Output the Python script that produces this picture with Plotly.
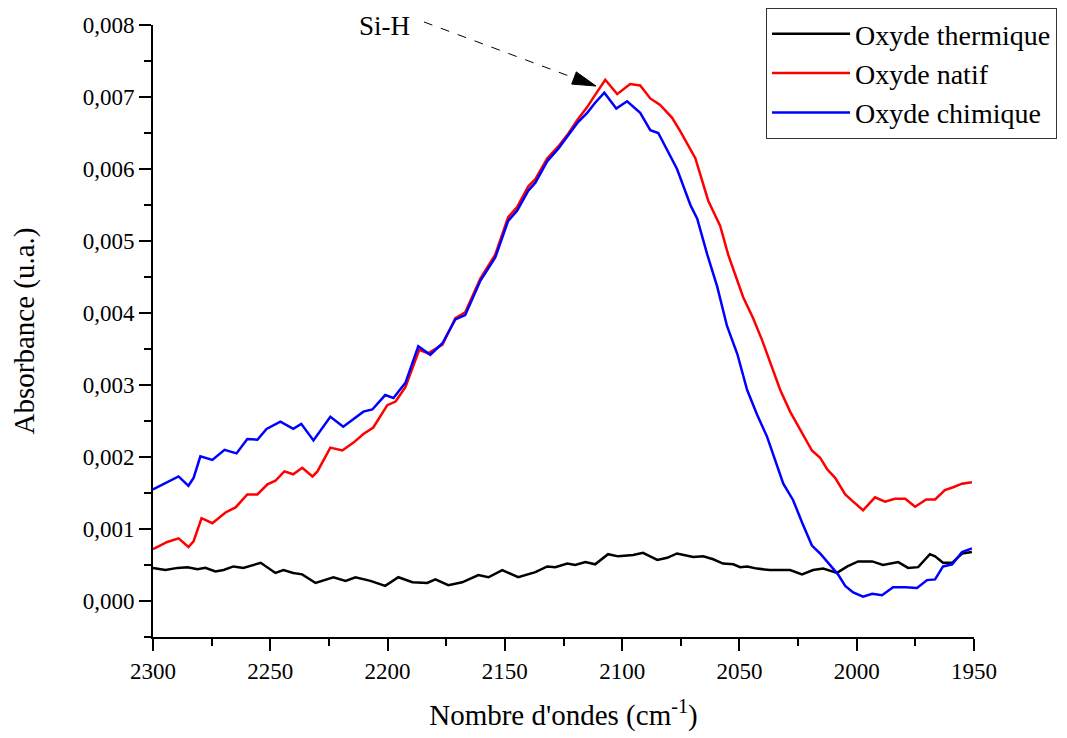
import plotly.graph_objs as go

# wavenumbers (cm-1) and absorbance
thermique_wn = [2300, 2294.7, 2289.5, 2285.3, 2281.0, 2277.7, 2273.4, 2269.9, 2265.7, 2261.5,
                2254.1, 2247.8, 2244.4, 2240.2, 2236.4, 2230.7, 2223.1, 2217.9, 2213.7, 2207.3,
                2201.0, 2195.4, 2189.4, 2183.1, 2179.6, 2174.1, 2168.2, 2161.3, 2157.0, 2151.1,
                2144.3, 2137.0, 2131.9, 2128.5, 2123.4, 2120.0, 2115.7, 2111.5, 2106.0, 2101.7,
                2095.3, 2091.1, 2085.0, 2080.8, 2076.6, 2069.7, 2065.4, 2061.2, 2057.0, 2052.6,
                2049.7, 2046.7, 2042.5, 2037.0, 2028.4, 2023.3, 2018.6, 2014.3, 2008.4, 2004.0,
                1999.4, 1993.4, 1988.8, 1982.3, 1978.1, 1973.8, 1968.8, 1966.6, 1963.2, 1959.3,
                1955.1, 1950.9]
thermique_abs = [0.00046, 0.00043, 0.00046, 0.00047, 0.00044, 0.00046, 0.00041, 0.00043, 0.00048, 0.00046,
                 0.00053, 0.00039, 0.00043, 0.00039, 0.00037, 0.00025, 0.00033, 0.00028, 0.00033, 0.00028,
                 0.00021, 0.00033, 0.00026, 0.00025, 0.00030, 0.00022, 0.00026, 0.00036, 0.00033, 0.00043,
                 0.00033, 0.00040, 0.00048, 0.00047, 0.00052, 0.00050, 0.00054, 0.00051, 0.00065, 0.00062,
                 0.00064, 0.00067, 0.00057, 0.00060, 0.00066, 0.00061, 0.00062, 0.00058, 0.00052, 0.00051,
                 0.00047, 0.00048, 0.00045, 0.00043, 0.00043, 0.00037, 0.00043, 0.00045, 0.00039, 0.00048,
                 0.00055, 0.00055, 0.00050, 0.00054, 0.00046, 0.00047, 0.00065, 0.00062, 0.00053, 0.00053,
                 0.00066, 0.00068]

natif_wn = [2300, 2293.9, 2289.1, 2284.9, 2282.7, 2279.3, 2274.7, 2269.1, 2264.8, 2259.8,
            2255.5, 2251.2, 2247.8, 2244.0, 2240.2, 2236.4, 2232.0, 2229.9, 2224.4, 2219.3,
            2214.5, 2210.3, 2206.1, 2200.1, 2196.6, 2192.4, 2186.5, 2182.7, 2176.6, 2171.1,
            2166.9, 2160.4, 2154.1, 2148.6, 2144.8, 2140.0, 2137.0, 2131.9, 2127.3, 2123.0,
            2119.1, 2114.9, 2111.5, 2107.2, 2102.1, 2096.6, 2092.3, 2088.0, 2083.8, 2078.7,
            2075.3, 2068.8, 2063.3, 2058.2, 2054.8, 2048.4, 2044.2, 2040.3, 2032.6, 2028.4,
            2024.1, 2019.1, 2015.6, 2012.6, 2009.2, 2004.9, 2001.5, 1997.3, 1992.2, 1987.9,
            1983.7, 1979.3, 1975.1, 1970.4, 1966.6, 1962.4, 1958.9, 1955.1, 1950.9]
natif_abs = [0.00072, 0.00082, 0.00087, 0.00075, 0.00083, 0.00115, 0.00108, 0.00123, 0.00130, 0.00148,
             0.00148, 0.00162, 0.00167, 0.00180, 0.00176, 0.00185, 0.00173, 0.00180, 0.00213, 0.00209,
             0.00220, 0.00232, 0.00241, 0.00272, 0.00277, 0.00297, 0.00349, 0.00344, 0.00356, 0.00393,
             0.00401, 0.00448, 0.00481, 0.00533, 0.00547, 0.00576, 0.00586, 0.00615, 0.00631, 0.00649,
             0.00668, 0.00686, 0.00703, 0.00724, 0.00704, 0.00718, 0.00716, 0.00698, 0.00689, 0.00671,
             0.00653, 0.00615, 0.00556, 0.00521, 0.00481, 0.00422, 0.00393, 0.00362, 0.00293, 0.00263,
             0.00238, 0.00209, 0.00199, 0.00183, 0.00171, 0.00148, 0.00138, 0.00126, 0.00144, 0.00138,
             0.00142, 0.00142, 0.00131, 0.00141, 0.00141, 0.00154, 0.00158, 0.00163, 0.00165]

chimique_wn = [2300, 2289.1, 2284.9, 2282.7, 2279.8, 2274.7, 2269.5, 2264.4, 2259.8, 2255.5,
               2251.6, 2245.7, 2240.2, 2236.8, 2231.6, 2224.4, 2218.9, 2210.3, 2206.5, 2201.0,
               2197.5, 2192.4, 2186.9, 2181.8, 2176.6, 2171.1, 2166.9, 2160.4, 2154.1, 2148.6,
               2144.8, 2140.0, 2137.0, 2131.9, 2127.3, 2123.0, 2119.1, 2114.9, 2111.5, 2107.6,
               2102.5, 2097.9, 2092.3, 2088.0, 2084.6, 2076.6, 2070.9, 2068.0, 2063.7, 2059.5,
               2055.3, 2050.9, 2046.7, 2042.5, 2038.2, 2031.3, 2027.1, 2023.3, 2019.1, 2015.6,
               2011.4, 2008.0, 2004.9, 2001.5, 1997.3, 1993.4, 1989.2, 1984.5, 1979.3, 1974.3,
               1970.0, 1966.6, 1963.2, 1959.3, 1955.1, 1950.9]
chimique_abs = [0.00155, 0.00173, 0.00160, 0.00171, 0.00201, 0.00196, 0.00210, 0.00205, 0.00225, 0.00224,
                0.00239, 0.00249, 0.00239, 0.00246, 0.00223, 0.00256, 0.00242, 0.00263, 0.00266, 0.00286,
                0.00282, 0.00303, 0.00354, 0.00342, 0.00358, 0.00391, 0.00397, 0.00445, 0.00477, 0.00528,
                0.00542, 0.00570, 0.00581, 0.00611, 0.00628, 0.00646, 0.00664, 0.00678, 0.00692, 0.00706,
                0.00684, 0.00694, 0.00678, 0.00654, 0.00650, 0.00600, 0.00550, 0.00531, 0.00481, 0.00437,
                0.00382, 0.00343, 0.00293, 0.00259, 0.00228, 0.00163, 0.00140, 0.00109, 0.00077, 0.00066,
                0.00050, 0.00037, 0.00021, 0.00012, 0.00006, 0.00010, 0.00008, 0.00019, 0.00019, 0.00018,
                0.00029, 0.00030, 0.00048, 0.00051, 0.00068, 0.00073]

font = 'Liberation Serif'

thermique = go.Scatter(x=thermique_wn, y=thermique_abs, mode='lines',
                       name='Oxyde thermique', line=dict(color='black', width=2.5))
natif = go.Scatter(x=natif_wn, y=natif_abs, mode='lines',
                   name='Oxyde natif', line=dict(color='red', width=2.5))
chimique = go.Scatter(x=chimique_wn, y=chimique_abs, mode='lines',
                      name='Oxyde chimique', line=dict(color='blue', width=2.5))

tickfont = dict(family=font, size=23, color='black')

# the page body adds 8px around the figure, so the figure is 8px smaller
layout = go.Layout(
    width=1059, height=730,
    margin=dict(l=145, r=93, t=17, b=101, autoexpand=False),
    paper_bgcolor='white', plot_bgcolor='white',
    font=dict(family=font, color='black', size=23),
    separators=', ',
    showlegend=True,
    legend=dict(xref='container', yref='container', x=0.7158, y=1.0,
                xanchor='left', yanchor='top', itemwidth=78,
                bgcolor='white', bordercolor='#333', borderwidth=1,
                font=dict(size=28, family=font, color='black'), tracegroupgap=0),
    xaxis=dict(title=dict(text="Nombre d'ondes (cm<sup>-1</sup>)",
                          font=dict(size=29, family=font), standoff=22),
               range=[2300, 1950], autorange=False, dtick=50, tick0=2300, automargin=False,
               showline=True, linewidth=2, linecolor='black', showgrid=False, zeroline=False,
               ticks='outside', ticklen=12, tickwidth=2, tickcolor='black',
               tickfont=tickfont,
               minor=dict(dtick=25, tick0=2300, ticks='outside', ticklen=7, tickwidth=2,
                          tickcolor='black', showgrid=False)),
    yaxis=dict(title=dict(text='Absorbance (u.a.)', font=dict(size=29, family=font), standoff=42),
               range=[-0.0005, 0.008], autorange=False, dtick=0.001, tick0=0, tickformat='.3f',
               automargin=False,
               showline=True, linewidth=2, linecolor='black', showgrid=False, zeroline=False,
               ticks='outside', ticklen=12, tickwidth=2, tickcolor='black',
               tickfont=tickfont,
               minor=dict(dtick=0.0005, tick0=0, ticks='outside', ticklen=7, tickwidth=2,
                          tickcolor='black', showgrid=False)),
)

fig = go.Figure(data=[thermique, natif, chimique], layout=layout)

# Si-H label with dashed arrow and filled head
fig.add_annotation(text='Si-H', xref='paper', yref='paper', x=0.2814, y=0.9984,
                   xanchor='center', yanchor='middle',
                   showarrow=False, font=dict(size=27, family=font, color='black'))
fig.add_shape(type='line', xref='paper', yref='paper', x0=0.330, y0=1.005, x1=0.514, y1=0.913,
              line=dict(color='black', width=1, dash='dash'))
fig.add_shape(type='path', xref='paper', yref='paper',
              path='M 0.5396 0.9003 L 0.5100 0.9034 L 0.5156 0.9234 Z',
              fillcolor='black', line=dict(color='black', width=1))

fig.write_html('out.html')
